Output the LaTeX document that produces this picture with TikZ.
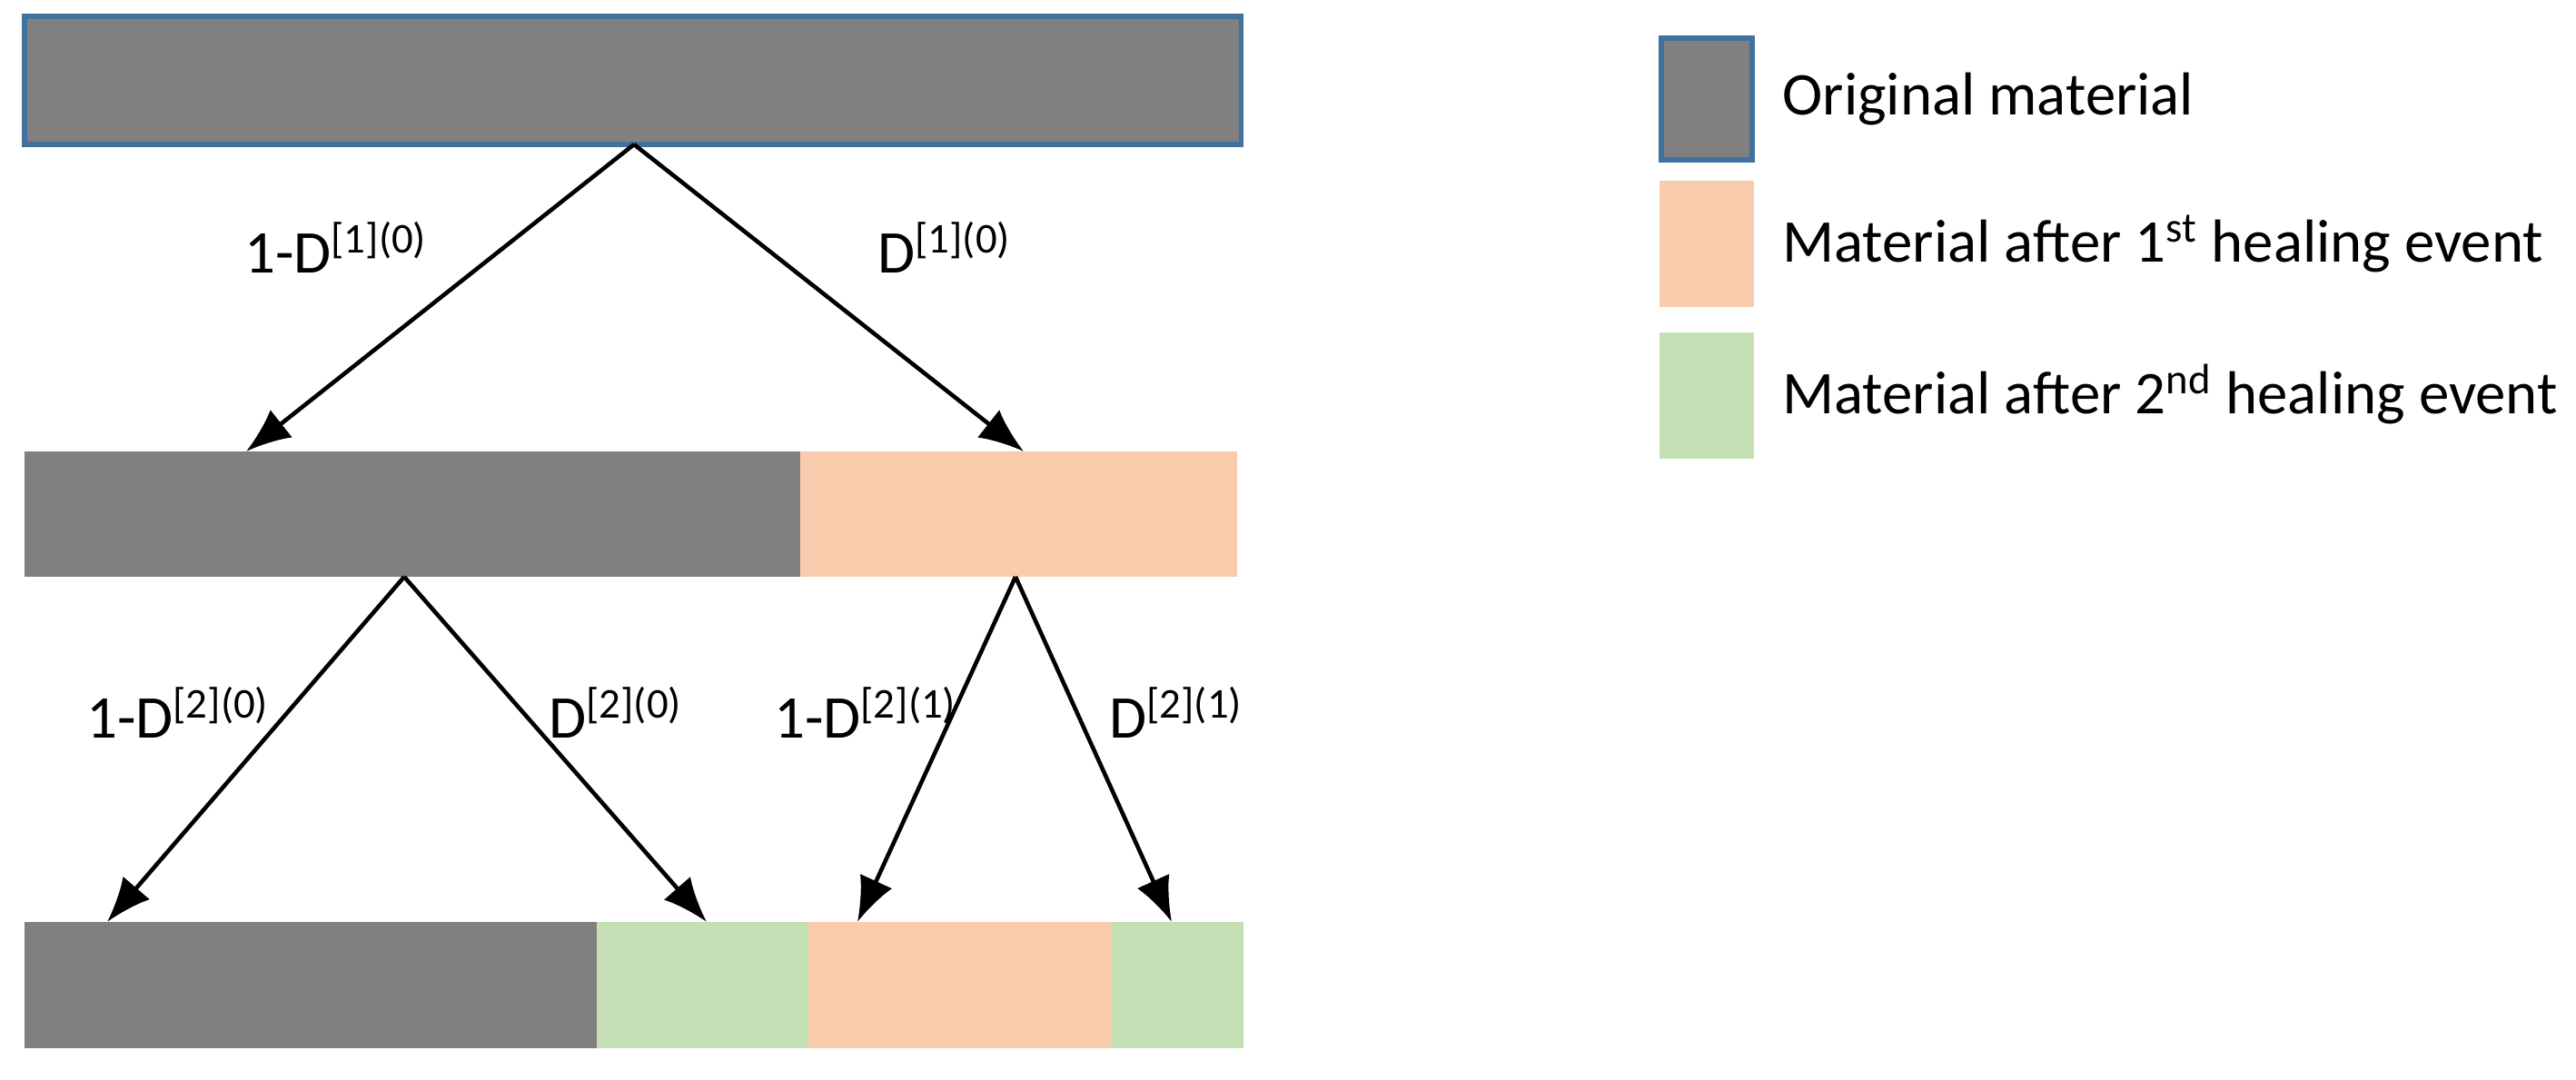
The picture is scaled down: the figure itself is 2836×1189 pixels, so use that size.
\documentclass[tikz,border=0pt]{standalone}
\usepackage{fontspec}
\setmainfont{Carlito}
\usetikzlibrary{arrows.meta}
\begin{document}
\begin{tikzpicture}[x=0.01cm,y=-0.01cm,
  box/.style={anchor=north west,inner sep=0,outer sep=0},
  grey/.style={box,fill=black!50,draw=none},
  peach/.style={box,fill={rgb,255:red,248;green,203;blue,173},draw=none},
  green/.style={box,fill={rgb,255:red,197;green,224;blue,180},draw=none},
  arr/.style={-{Latex[length=14pt,width=11pt]},line width=1.3pt},
  lab/.style={font=\fontsize{19}{22}\selectfont},
  leg/.style={font=\fontsize{19}{22}\selectfont,anchor=west}]
\useasboundingbox (0,0) rectangle (2836,1189);
\definecolor{bord}{RGB}{65,113,156}
% bars
\node[grey,draw=bord,line width=1.5pt,minimum width=13.39cm,minimum height=1.41cm] (top) at (27,18) {};
\node[grey,minimum width=8.54cm,minimum height=1.38cm] (m1) at (27,497) {};
\node[peach,minimum width=4.81cm,minimum height=1.38cm] (m2) at (881,497) {};
\node[grey,minimum width=6.30cm,minimum height=1.39cm] (b1) at (27,1015) {};
\node[green,minimum width=2.33cm,minimum height=1.39cm] (b2) at (657,1015) {};
\node[peach,minimum width=3.33cm,minimum height=1.39cm] (b3) at (890,1015) {};
\node[green,minimum width=1.46cm,minimum height=1.39cm] (b4) at (1223,1015) {};
% connector points
\coordinate (t0) at (698,159);
\coordinate (t1) at (271,497);
\coordinate (t2) at (1127,497);
\coordinate (s0) at (445,635);
\coordinate (s1) at (118,1015);
\coordinate (s2) at (778,1015);
\coordinate (r0) at (1118,635);
\coordinate (r1) at (944,1015);
\coordinate (r2) at (1290,1015);
\draw[arr] (t0) -- (t1);
\draw[arr] (t0) -- (t2);
\draw[arr] (s0) -- (s1);
\draw[arr] (s0) -- (s2);
\draw[arr] (r0) -- (r1);
\draw[arr] (r0) -- (r2);
% labels
\node[lab] (l1) at (370,272) {1-D\textsuperscript{[1](0)}};
\node[lab] (l2) at (1040,272) {D\textsuperscript{[1](0)}};
\node[lab] (l3) at (196,784) {1-D\textsuperscript{[2](0)}};
\node[lab] (l4) at (678,784) {D\textsuperscript{[2](0)}};
\node[lab] (l5) at (953,784) {1-D\textsuperscript{[2](1)}};
\node[lab] (l6) at (1295,784) {D\textsuperscript{[2](1)}};
% legend
\node[grey,draw=bord,line width=1.5pt,minimum width=1.00cm,minimum height=1.34cm] (g1) at (1829,42) {};
\node[peach,minimum width=1.04cm,minimum height=1.39cm] (g2) at (1827,199) {};
\node[green,minimum width=1.04cm,minimum height=1.39cm] (g3) at (1827,366) {};
\node[leg] (lt1) at (1950,109) {Original material};
\node[leg] (lt2) at (1950,268) {Material after 1\textsuperscript{st} healing event};
\node[leg] (lt3) at (1950,434) {Material after 2\textsuperscript{nd} healing event};
\end{tikzpicture}
\end{document}
